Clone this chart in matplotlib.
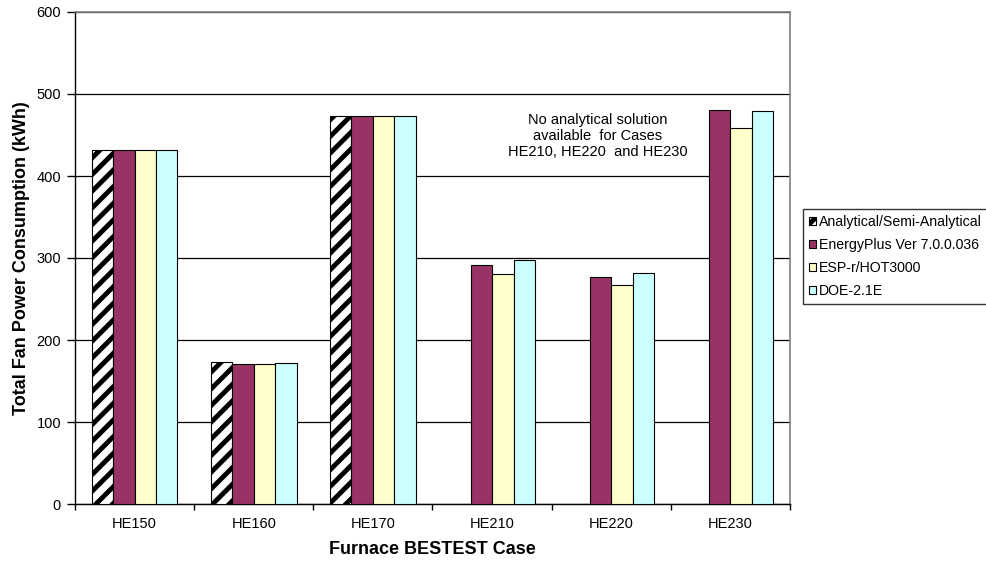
import numpy as np
import matplotlib
matplotlib.use('Agg')
import matplotlib.pyplot as plt

# data
cases = ['HE150', 'HE160', 'HE170', 'HE210', 'HE220', 'HE230']
analytical = [432, 173, 473, np.nan, np.nan, np.nan]
energyplus = [432, 171, 473, 292, 277, 481]
esp_r = [432, 171, 473, 281, 267, 458]
doe2 = [432, 172, 473, 298, 282, 479]

series_names = ['Analytical/Semi-Analytical', 'EnergyPlus Ver 7.0.0.036',
                'ESP-r/HOT3000', 'DOE-2.1E']

plt.rcParams['font.family'] = ['Liberation Sans', 'DejaVu Sans']
plt.rcParams['hatch.linewidth'] = 3.5
plt.rcParams['hatch.color'] = 'black'

W, H = 987, 564
fig = plt.figure(figsize=(W / 100, H / 100), dpi=100)
ax = fig.add_axes([75 / W, 1 - 504 / H, (790 - 75) / W, (504 - 12) / H])

x = np.arange(len(cases))
bw = 0.18
series = [analytical, energyplus, esp_r, doe2]
colors = ['white', '#993366', '#FFFFCC', '#CCFFFF']
hatches = ['//', None, None, None]
handles = []
for i, (vals, col, hat, name) in enumerate(zip(series, colors, hatches, series_names)):
    b = ax.bar(x + (i - 1.5) * bw, vals, bw, color=col, edgecolor='black',
               linewidth=0.8, hatch=hat, label=name, zorder=3)
    handles.append(b)

ax.set_xlim(-0.5, len(cases) - 0.5)
ax.set_ylim(0, 600)
ax.set_yticks(np.arange(0, 601, 100))
ax.yaxis.grid(True, color='black', linewidth=0.9, zorder=0)
ax.set_axisbelow(True)

ax.set_xticks(x)
ax.set_xticklabels(cases)
ax.set_xticks(np.arange(-0.5, len(cases), 1), minor=True)
ax.tick_params(axis='x', which='major', length=0, pad=9.5, labelsize=10.5)
ax.tick_params(axis='x', which='minor', length=4, width=1, color='black')
ax.tick_params(axis='y', length=6, width=1, pad=4, labelsize=10.5)

for s in ['top', 'right']:
    ax.spines[s].set_color('#808080')
    ax.spines[s].set_linewidth(1.2)
for s in ['left', 'bottom']:
    ax.spines[s].set_color('black')
    ax.spines[s].set_linewidth(1.0)

fig.text(22 / W, 1 - 258 / H, 'Total Fan Power Consumption (kWh)', rotation=90,
         ha='center', va='center', fontsize=13, fontweight='bold')
fig.text(432 / W, 1 - 549 / H, 'Furnace BESTEST Case',
         ha='center', va='center', fontsize=13, fontweight='bold')

fig.text(598 / W, 1 - 136 / H,
         'No analytical solution\navailable  for Cases\nHE210, HE220  and HE230',
         ha='center', va='center', fontsize=10.5, linespacing=1.15)

leg = fig.legend(handles=handles, loc='upper left',
                 bbox_to_anchor=(803 / W, 1 - 209 / H), fontsize=10.2,
                 frameon=True, fancybox=False, handlelength=0.5,
                 handleheight=0.5, handletextpad=0.2, labelspacing=0.62,
                 borderpad=0.45, borderaxespad=0)
leg.get_frame().set_edgecolor('black')
leg.get_frame().set_linewidth(1.0)

fig.savefig('out.png', dpi=100)
